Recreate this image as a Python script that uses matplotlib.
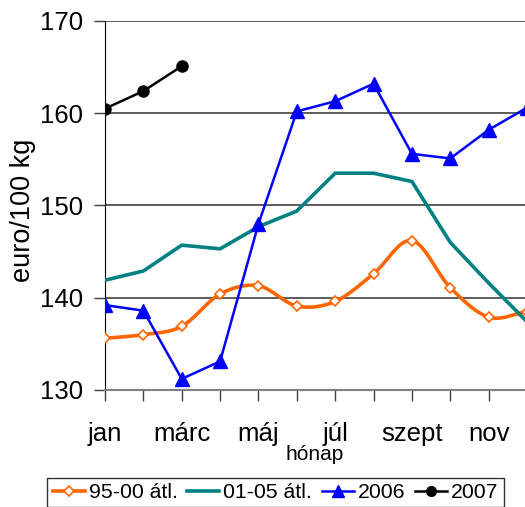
import numpy as np
import matplotlib
matplotlib.use("Agg")
import matplotlib.pyplot as plt

plt.rcParams['font.family'] = ['Liberation Sans', 'DejaVu Sans']

months = ['jan', 'febr', 'márc', 'ápr', 'máj', 'jún', 'júl', 'aug', 'szept', 'okt', 'nov', 'dec']
tick_labels = ['jan', '', 'márc', '', 'máj', '', 'júl', '', 'szept', '', 'nov', '']
avg_95_00 = [135.6, 136.0, 136.9, 140.4, 141.3, 139.1, 139.6, 142.6, 146.2, 141.1, 137.9, 138.5]
avg_01_05 = [141.9, 142.9, 145.7, 145.3, 147.7, 149.4, 153.5, 153.5, 152.6, 146.0, 141.6, 137.4]
y2006 = [139.2, 138.6, 131.2, 133.1, 148.0, 160.2, 161.3, 163.2, 155.6, 155.1, 158.2, 160.6]
y2007 = [160.5, 162.4, 165.1]


def smooth(xs, ys, n=20):
    xs = np.asarray(xs, float)
    ys = np.asarray(ys, float)
    px = np.concatenate([[2 * xs[0] - xs[1]], xs, [2 * xs[-1] - xs[-2]]])
    py = np.concatenate([[2 * ys[0] - ys[1]], ys, [2 * ys[-1] - ys[-2]]])
    ox, oy = [], []
    for i in range(1, len(px) - 2):
        t = np.linspace(0, 1, n, endpoint=False)
        for arr, out in ((px, ox), (py, oy)):
            p0, p1, p2, p3 = arr[i - 1], arr[i], arr[i + 1], arr[i + 2]
            out.extend(0.5 * ((2 * p1) + (-p0 + p2) * t +
                              (2 * p0 - 5 * p1 + 4 * p2 - p3) * t ** 2 +
                              (-p0 + 3 * p1 - 3 * p2 + p3) * t ** 3))
    ox.append(xs[-1]); oy.append(ys[-1])
    return np.array(ox), np.array(oy)


fig = plt.figure(figsize=(5.25, 5.07), dpi=100)
ax = fig.add_axes([0.2, 0.2308, 0.8038, 0.7278])

x = np.arange(len(months))
orange = '#FF6600'
teal = '#008080'

for yv in [140, 150, 160, 170]:
    ax.axhline(yv, color='#303030', lw=1.1, zorder=1)

sx, sy = smooth(x, avg_95_00)
ax.plot(sx, sy, color=orange, lw=2.6, zorder=3, solid_capstyle='round')
ax.plot(x, avg_95_00, ls='none', marker='D', ms=5.5, mfc='white', mec=orange, mew=1.2, zorder=4)
ax.plot(x, avg_01_05, color=teal, lw=2.6, zorder=3)
ax.plot(x, y2006, color='#0000FF', lw=1.8, marker='^', ms=10, zorder=5)
ax.plot(x[:len(y2007)], y2007, color='black', lw=1.8, marker='o', ms=8, zorder=5)

# legend proxies
h1, = ax.plot([], [], color=orange, lw=2.6, marker='D', ms=5, mfc='white', mec=orange, mew=1.2)
h2, = ax.plot([], [], color=teal, lw=2.6)
h3, = ax.plot([], [], color='#0000FF', lw=1.8, marker='^', ms=8)
h4, = ax.plot([], [], color='black', lw=1.8, marker='o', ms=7)
leg = fig.legend([h1, h2, h3, h4], ['95-00 átl.', '01-05 átl.', '2006', '2007'],
                 loc='center', bbox_to_anchor=(0.525, 0.0286),
                 ncol=4, fontsize=15.3, frameon=True, fancybox=False, edgecolor='black',
                 handlelength=1.5, handletextpad=0.2, columnspacing=0.45, borderpad=0.25,
                 borderaxespad=0)
leg.get_frame().set_linewidth(1.0)

ax.set_xlim(0, 11)
ax.set_ylim(130, 170)
ax.set_yticks([130, 140, 150, 160, 170])
ax.set_xticks(x)
ax.set_xticklabels(tick_labels)
ax.tick_params(axis='both', labelsize=18.5, length=8, width=1.0, direction='out', color='#404040')
ax.tick_params(axis='y', pad=8)
ax.tick_params(axis='x', pad=15)
for s in ['top', 'right']:
    ax.spines[s].set_visible(False)
ax.spines['left'].set_color('black')
ax.spines['bottom'].set_color('#808080')
ax.spines['bottom'].set_linewidth(1.5)

fig.text(0.043, 0.586, 'euro/100 kg', rotation=90, ha='center', va='center', fontsize=19.5)
fig.text(315 / 525, 1 - 455 / 507, 'hónap', ha='center', va='center', fontsize=15)

fig.savefig('out.png', dpi=100)
